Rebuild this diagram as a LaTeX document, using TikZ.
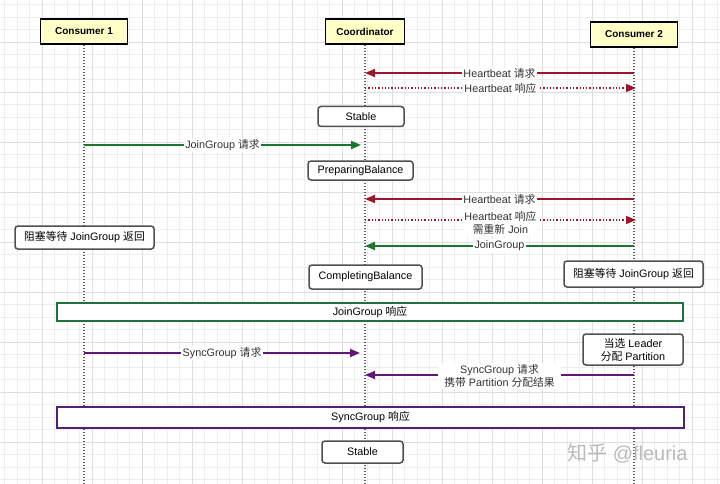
\documentclass[tikz,border=0pt]{standalone}
\usepackage{fontspec}
\setmainfont{Liberation Sans}
\newfontfamily\cjk{Noto Sans CJK SC}
\newcommand\zh[1]{{\cjk #1}}
\usetikzlibrary{arrows.meta}
\definecolor{hbred}{RGB}{158,20,42}
\definecolor{jgreen}{RGB}{28,118,48}
\definecolor{boxgreen}{RGB}{32,112,64}
\definecolor{spurple}{RGB}{96,24,118}
\definecolor{boxpurple}{RGB}{80,32,120}
\definecolor{headfill}{RGB}{255,255,200}
\definecolor{minorg}{RGB}{238,238,238}
\definecolor{majorg}{RGB}{222,222,222}
\definecolor{boxgray}{RGB}{80,80,80}
\definecolor{lifegray}{RGB}{90,90,90}
\tikzset{
  head/.style={draw=black, line width=1.7pt, fill=headfill, font=\bfseries\fontsize{10}{12}\selectfont, inner sep=0pt},
  statebox/.style={draw=boxgray, line width=1.5pt, rounded corners=3pt, fill=white, font=\fontsize{10.8}{13}\selectfont, inner sep=0pt, align=center},
  wide/.style={line width=1.6pt, fill=white, font=\fontsize{10.8}{13}\selectfont, inner sep=0pt},
  life/.style={draw=lifegray, line width=1.5pt, dash pattern=on 1.2pt off 1.8pt},
  tip/.style={-{Triangle[length=10pt,width=8pt]}},
  solidmsg/.style={tip, line width=1.8pt},
  dotmsg/.style={tip, line width=1.5pt, dash pattern=on 1.3pt off 2pt},
  lab/.style={fill=white, inner sep=1.5pt, text=black!80, font=\fontsize{10.8}{13}\selectfont, align=center},
}
\begin{document}
\begin{tikzpicture}[x=1pt,y=-1pt]
\useasboundingbox (0,0) rectangle (720,484);
\fill[white] (0,0) rectangle (720,484);
% grid
\foreach \i in {0,...,58} {
  \draw[minorg, line width=0.8pt] ({4.5+12.5*\i},0) -- ({4.5+12.5*\i},484);
}
\foreach \i in {0,...,39} {
  \draw[minorg, line width=0.8pt] (0,{4.5+12.5*\i}) -- (720,{4.5+12.5*\i});
}
\foreach \i in {0,...,15} {
  \draw[majorg, line width=0.9pt] ({-8+50*\i},0) -- ({-8+50*\i},484);
}
\foreach \i in {0,...,10} {
  \draw[majorg, line width=0.9pt] (0,{-8+50*\i}) -- (720,{-8+50*\i});
}
% headers
\node[head, minimum width=87, minimum height=25] (c1) at (84,31.5) {Consumer 1};
\node[head, minimum width=79, minimum height=25] (co) at (365,31.5) {Coordinator};
\node[head, minimum width=87, minimum height=25] (c2) at (634,34.5) {Consumer 2};
% lifelines
\coordinate (c1bot) at (84,484);
\coordinate (cobot) at (365,484);
\coordinate (c2bot) at (634,484);
\draw[life] (c1.south) -- (c1bot);
\draw[life] (co.south) -- (cobot);
\draw[life] (c2.south) -- (c2bot);
% state boxes
\node[statebox, minimum width=86, minimum height=20] (st1) at (361,116.5) {Stable};
\node[statebox, minimum width=105, minimum height=19] (pb) at (360.5,170.5) {PreparingBalance};
\node[statebox, minimum width=113, minimum height=24] (cb) at (365.5,277) {CompletingBalance};
\node[statebox, minimum width=139, minimum height=23] (blk1) at (84.5,237.5) {\zh{阻塞等待} JoinGroup \zh{返回}};
\node[statebox, minimum width=139, minimum height=26] (blk2) at (633.5,274) {\zh{阻塞等待} JoinGroup \zh{返回}};
\node[statebox, minimum width=100, minimum height=31] (ld) at (633,349.5) {\zh{当选} Leader\\\zh{分配} Partition};
\node[statebox, minimum width=81, minimum height=22] (st2) at (362.5,452) {Stable};
\node[wide, draw=boxgreen, minimum width=626, minimum height=18] (jr) at (370,312) {JoinGroup \zh{响应}};
\node[wide, draw=boxpurple, minimum width=627, minimum height=21] (sr) at (370.5,417.5) {SyncGroup \zh{响应}};
% messages
\coordinate (m1a) at (634,73);  \coordinate (m1b) at (365,73);
\coordinate (m2a) at (365,88);  \coordinate (m2b) at (636,88);
\coordinate (m3a) at (84,145);  \coordinate (m3b) at (361,145);
\coordinate (m4a) at (634,199); \coordinate (m4b) at (365,199);
\coordinate (m5a) at (365,220); \coordinate (m5b) at (636,220);
\coordinate (m6a) at (634,246); \coordinate (m6b) at (365,246);
\coordinate (m7a) at (84,353);  \coordinate (m7b) at (360,353);
\coordinate (m8a) at (634,375); \coordinate (m8b) at (365,375);
\draw[solidmsg, hbred] (m1a) -- node[lab] {Heartbeat \zh{请求}} (m1b);
\draw[dotmsg, hbred] (m2a) -- node[lab] {Heartbeat \zh{响应}} (m2b);
\draw[solidmsg, jgreen] (m3a) -- node[lab] {JoinGroup \zh{请求}} (m3b);
\draw[solidmsg, hbred] (m4a) -- node[lab] {Heartbeat \zh{请求}} (m4b);
\draw[dotmsg, hbred] (m5a) -- node[lab, yshift=-2.5pt] {Heartbeat \zh{响应}\\\zh{需重新} Join} (m5b);
\draw[solidmsg, jgreen] (m6a) -- node[lab] {JoinGroup} (m6b);
\draw[solidmsg, spurple] (m7a) -- node[lab] {SyncGroup \zh{请求}} (m7b);
\draw[solidmsg, spurple] (m8a) -- node[lab, yshift=-1pt, inner xsep=6pt] {SyncGroup \zh{请求}\\\zh{携带} Partition \zh{分配结果}} (m8b);
% watermark
\node[anchor=west, text=black!27, font=\fontsize{20}{22}\selectfont, inner sep=0pt] (wm) at (567,453) {\zh{知乎} @fleuria};
\end{tikzpicture}
\end{document}
